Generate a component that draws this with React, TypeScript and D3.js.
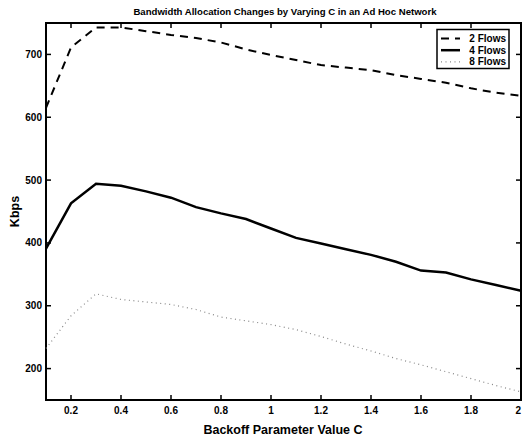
import React, { useEffect, useRef } from 'react';
import * as d3 from 'd3';

const cValues = [0.1, 0.2, 0.3, 0.4, 0.5, 0.6, 0.7, 0.8, 0.9, 1.0, 1.1, 1.2, 1.3, 1.4, 1.5, 1.6, 1.7, 1.8, 1.9, 2.0];
const flows2 = [615, 711, 743, 743, 737, 731, 726, 719, 708, 699, 691, 683, 679, 675, 667, 661, 655, 646, 639, 634];
const flows4 = [391, 463, 494, 491, 482, 472, 457, 447, 438, 423, 408, 399, 390, 381, 370, 356, 353, 342, 333, 324];
const flows8 = [232, 284, 319, 310, 306, 302, 294, 282, 276, 270, 262, 251, 239, 228, 216, 206, 195, 184, 173, 163];
const xTicks = [0.2, 0.4, 0.6, 0.8, 1, 1.2, 1.4, 1.6, 1.8, 2];
const yTicks = [200, 300, 400, 500, 600, 700];
const seriesNames = ['2 Flows', '4 Flows', '8 Flows'];

export default function App() {
  const svgRef = useRef<SVGSVGElement>(null);

  useEffect(() => {
    const width = 522;
    const height = 441;
    const margin = { top: 23, right: 1, bottom: 41, left: 46 };

    const svg = d3.select(svgRef.current);
    svg.selectAll('*').remove();

    const x = d3.scaleLinear().domain([0.1, 2]).range([margin.left, width - margin.right]);
    const y = d3.scaleLinear().domain([150, 750]).range([height - margin.bottom, margin.top]);

    const font = 'Liberation Sans, Arial, sans-serif';

    // title
    svg.append('text')
      .attr('x', 285)
      .attr('y', 15)
      .attr('text-anchor', 'middle')
      .attr('font-family', font)
      .attr('font-weight', 'bold')
      .attr('font-size', '9.6px')
      .text('Bandwidth Allocation Changes by Varying C in an Ad Hoc Network');

    const x0 = margin.left, x1 = width - margin.right;
    const y0 = margin.top, y1 = height - margin.bottom;

    // ticks, inward on all sides
    const tl = 5;
    xTicks.forEach((t, i) => {
      svg.append('line').attr('x1', x(t)).attr('x2', x(t)).attr('y1', y1).attr('y2', y1 - tl)
        .attr('stroke', '#000').attr('stroke-width', 1.5);
      svg.append('line').attr('x1', x(t)).attr('x2', x(t)).attr('y1', y0).attr('y2', y0 + tl)
        .attr('stroke', '#000').attr('stroke-width', 1.5);
      const last = i === xTicks.length - 1;
      svg.append('text')
        .attr('x', last ? width - 1 : x(t))
        .attr('y', y1 + 14)
        .attr('text-anchor', last ? 'end' : 'middle')
        .attr('font-family', font)
        .attr('font-weight', 'bold')
        .attr('font-size', '10px')
        .text(String(t));
    });
    yTicks.forEach(t => {
      svg.append('line').attr('x1', x0).attr('x2', x0 + tl).attr('y1', y(t)).attr('y2', y(t))
        .attr('stroke', '#000').attr('stroke-width', 1.5);
      svg.append('line').attr('x1', x1).attr('x2', x1 - tl).attr('y1', y(t)).attr('y2', y(t))
        .attr('stroke', '#000').attr('stroke-width', 1.5);
      svg.append('text')
        .attr('x', x0 - 4)
        .attr('y', y(t) + 3.5)
        .attr('text-anchor', 'end')
        .attr('font-family', font)
        .attr('font-weight', 'bold')
        .attr('font-size', '10px')
        .text(String(t));
    });

    // frame
    svg.append('rect')
      .attr('x', x0).attr('y', y0)
      .attr('width', x1 - x0).attr('height', y1 - y0)
      .attr('fill', 'none').attr('stroke', '#000').attr('stroke-width', 2);

    // axis labels
    svg.append('text')
      .attr('x', 283)
      .attr('y', 434)
      .attr('text-anchor', 'middle')
      .attr('font-family', font)
      .attr('font-weight', 'bold')
      .attr('font-size', '12.5px')
      .text('Backoff Parameter Value C');
    svg.append('text')
      .attr('transform', `translate(19,${(y0 + y1) / 2}) rotate(-90)`)
      .attr('text-anchor', 'middle')
      .attr('font-family', font)
      .attr('font-weight', 'bold')
      .attr('font-size', '12.5px')
      .text('Kbps');

    const styles = [
      { data: flows2, dash: '8,6', width: 2, color: '#000' },
      { data: flows4, dash: null, width: 2.5, color: '#000' },
      { data: flows8, dash: '1,3.5', width: 1.2, color: '#888' },
    ];

    const line = d3.line<number>()
      .x((d, i) => x(cValues[i]))
      .y(d => y(d));

    styles.forEach(s => {
      svg.append('path')
        .datum(s.data)
        .attr('fill', 'none')
        .attr('stroke', s.color)
        .attr('stroke-width', s.width)
        .attr('stroke-dasharray', s.dash)
        .attr('d', line);
    });

    // legend
    const lg = svg.append('g');
    lg.append('rect')
      .attr('x', 437).attr('y', 29.5)
      .attr('width', 72).attr('height', 39)
      .attr('fill', '#fff').attr('stroke', '#000').attr('stroke-width', 1.5);
    seriesNames.forEach((name, i) => {
      const ly = 38.5 + i * 11.7;
      const s = styles[i];
      lg.append('line')
        .attr('x1', 441).attr('x2', 460)
        .attr('y1', ly).attr('y2', ly)
        .attr('stroke', s.color)
        .attr('stroke-width', s.width)
        .attr('stroke-dasharray', s.dash);
      lg.append('text')
        .attr('x', 506)
        .attr('y', ly + 3.5)
        .attr('text-anchor', 'end')
        .attr('font-family', font)
        .attr('font-weight', 'bold')
        .attr('font-size', '10px')
        .text(name);
    });
  }, []);

  return (
    <svg
      ref={svgRef}
      width={522}
      height={441}
      style={{ position: 'absolute', left: 0, top: 0, background: '#fff' }}
    />
  );
}
